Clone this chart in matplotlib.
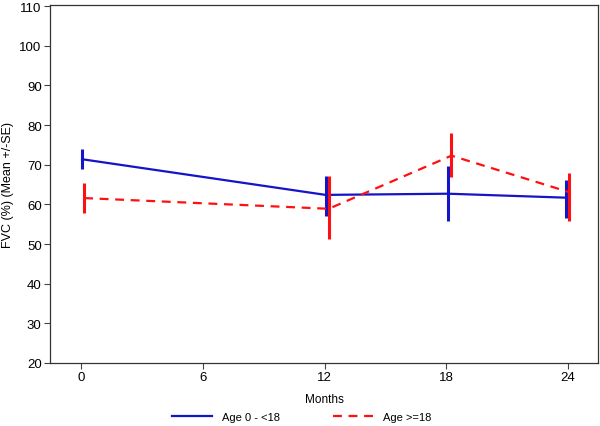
import matplotlib
matplotlib.use("Agg")
import matplotlib.pyplot as plt

plt.rcParams["font.family"] = ["Liberation Sans", "DejaVu Sans"]

# mean months at each visit, FVC mean and +/- SE bounds
months_young = [0.05, 12.05, 18.1, 23.9]
fvc_young = [71.4, 62.4, 62.7, 61.7]
fvc_young_lo = [68.9, 57.1, 55.9, 56.5]
fvc_young_hi = [74.1, 67.1, 69.7, 66.1]

months_adult = [0.15, 12.2, 18.25, 24.05]
fvc_adult = [61.6, 58.9, 72.3, 63.1]
fvc_adult_lo = [57.9, 51.3, 66.9, 55.7]
fvc_adult_hi = [65.4, 67.1, 78.0, 68.0]

xticks = [0, 6, 12, 18, 24]
yticks = list(range(20, 111, 10))

blue = "#1414c8"
red = "#ff1010"

fig = plt.figure(figsize=(6.0, 4.27), dpi=100)
ax = fig.add_axes([50 / 600, 1 - 364 / 427, 548 / 600, 358 / 427])

ax.plot(months_young, fvc_young, color=blue, lw=1.6, label="Age 0 - <18")
ax.vlines(months_young, fvc_young_lo, fvc_young_hi, color=blue, lw=2.2)

ax.plot(months_adult, fvc_adult, color=red, lw=1.6, linestyle=(0, (4, 3)),
        label="Age >=18")
ax.vlines(months_adult, fvc_adult_lo, fvc_adult_hi, color=red, lw=2.2)

ax.set_xlim(-1.53, 25.47)
ax.set_ylim(20, 110.3)
ax.set_xticks(xticks)
ax.set_yticks(yticks)
ax.tick_params(labelsize=9.5, length=4, width=0.8, color="#444444", pad=2)

for side in ["left", "right", "top", "bottom"]:
    ax.spines[side].set_color("#333333")
    ax.spines[side].set_linewidth(0.9)

ax.set_ylabel("FVC (%) (Mean +/-SE)", fontsize=9, labelpad=4)
ax.set_xlabel("Months", fontsize=8.5, labelpad=7)

fig.legend(loc="center", bbox_to_anchor=(0.503, 1 - 418 / 427), ncol=2,
           frameon=False, fontsize=8, handlelength=3.6, columnspacing=4.8,
           handletextpad=0.9)

fig.savefig("out.png", dpi=100)
